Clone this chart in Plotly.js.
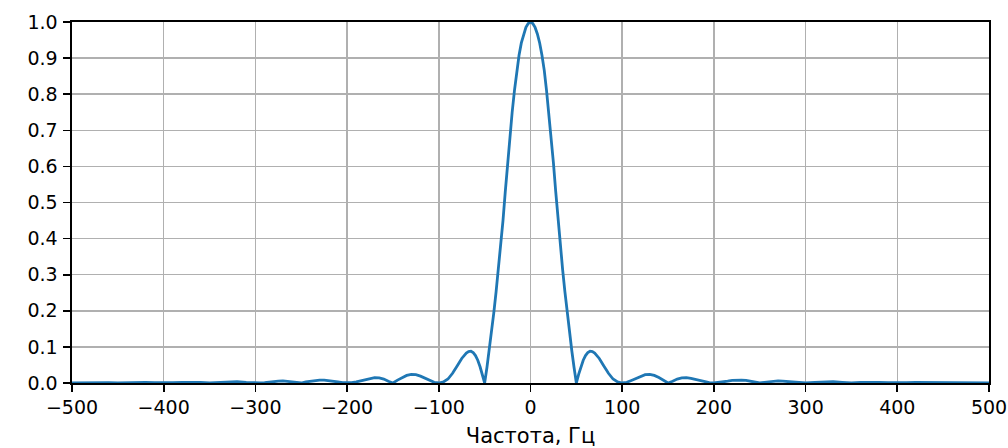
<!DOCTYPE html>
<html>
<head>
<meta charset="utf-8">
<script src="https://cdn.plot.ly/plotly-3.0.1.min.js"></script>
<style>html,body{margin:0;padding:0;background:#fff;}#chart{width:1008px;height:448px;}</style>
</head>
<body>
<div id="chart"></div>
<script>
// Frequency (Hz), negative half
const freqNeg = [-500,-490,-480,-470,-460,-450,-440,-430,-420,-410,-400,-390,-380,-370,-360,-350,-340,-330,-320,-310,
  -300,-295,-290,-285,-280,-275,-270,-265,-260,-255,-250,-245,-240,-235,-230,-225,-220,-215,-210,-205,
  -200,-195,-190,-185,-180,-175,-170,-165,-160,-155,-150,-145,-140,-135,-130,-125,-120,-115,-110,-105,
  -100,-95,-90,-85,-80,-75,-70,-67.5,-65,-62.5,-60,-57.5,-55,-52.5,-50,-47.5,-45,-42.5,-40,-37.5,-35,-32.5,-30,-27.5,-25,-22.5,-20,-17.5,-15,-12.5,-10,-7.5,-5,-2.5];
const ampNeg = [0,0.0005,0.001,0.002,0.001,0,0.001,0.002,0.002,0.001,0,0.001,0.002,0.003,0.002,0,0.002,0.004,0.004,0.002,
  0,0.0005,0.001,0.003,0.004,0.005,0.006,0.005,0.004,0.002,0,0.003,0.005,0.007,0.008,0.008,0.007,0.005,0.003,0.001,
  0,0.001,0.003,0.006,0.010,0.013,0.015,0.014,0.011,0.005,0,0.008,0.015,0.021,0.024,0.023,0.019,0.013,0.007,0.002,
  0,0.003,0.011,0.027,0.047,0.068,0.083,0.087,0.088,0.084,0.076,0.063,0.045,0.024,0,0.043,0.09,0.14,0.195,0.253,0.315,0.38,0.45,0.53,0.61,0.685,0.75,0.81,0.866,0.908,0.942,0.967,0.985,0.996];
// Frequency (Hz), centre and positive half
const freqPos = [0,2.5,5,7.5,10,12.5,15,17.5,20,22.5,25,27.5,30,32.5,35,37.5,40,42.5,45,47.5,50,52.5,55,57.5,60,62.5,65,67.5,70,75,80,85,90,95,
  100,105,110,115,120,125,130,135,140,145,150,155,160,165,170,175,180,185,190,195,
  200,205,210,215,220,225,230,235,240,245,250,255,260,265,270,275,280,285,290,295,
  300,310,320,330,340,350,360,370,380,390,400,410,420,430,440,450,460,470,480,490,500];
const ampPos = [1.0,0.996,0.985,0.967,0.942,0.908,0.866,0.81,0.75,0.685,0.61,0.53,0.45,0.38,0.315,0.253,0.195,0.14,0.09,0.043,0,0.024,0.045,0.063,0.076,0.084,0.088,0.087,0.083,0.068,0.047,0.027,0.011,0.003,
  0,0.002,0.007,0.013,0.019,0.023,0.024,0.021,0.015,0.008,0,0.005,0.011,0.014,0.015,0.013,0.010,0.006,0.003,0.001,
  0,0.001,0.003,0.005,0.007,0.008,0.008,0.007,0.005,0.003,0,0.002,0.004,0.005,0.006,0.005,0.004,0.003,0.001,0.0005,
  0,0.002,0.004,0.004,0.002,0,0.002,0.003,0.002,0.001,0,0.001,0.002,0.002,0.001,0,0.001,0.002,0.001,0.0005,0];
const xTicks = [-500,-400,-300,-200,-100,0,100,200,300,400,500];
const yTicks = [0,0.1,0.2,0.3,0.4,0.5,0.6,0.7,0.8,0.9,1.0];
const xLabel = 'Частота, Гц';

const trace = {
  x: freqNeg.concat(freqPos),
  y: ampNeg.concat(ampPos),
  type: 'scatter', mode: 'lines',
  line: {color: '#1f77b4', width: 2.8},
  hoverinfo: 'skip'
};
const tickFont = {family: 'DejaVu Sans, sans-serif', size: 19, color: '#000'};
const titleFont = {family: 'DejaVu Sans, sans-serif', size: 21, color: '#000'};
const axisCommon = {
  showline: true, linecolor: '#000', linewidth: 1.6, mirror: true,
  ticks: 'outside', ticklen: 7, tickwidth: 1.6, tickcolor: '#000',
  showgrid: true, gridcolor: '#b0b0b0', gridwidth: 1.5, zeroline: false,
  tickfont: tickFont
};
const layout = {
  width: 1008, height: 448,
  margin: {l: 72, r: 19, t: 22, b: 65},
  paper_bgcolor: '#fff', plot_bgcolor: '#fff',
  showlegend: false,
  font: tickFont,
  xaxis: Object.assign({}, axisCommon, {
    range: [-500, 500], tickvals: xTicks,
    ticktext: xTicks.map(v => (v < 0 ? '\u2212' + Math.abs(v) : String(v))),
    title: {text: xLabel, font: titleFont, standoff: 11}
  }),
  yaxis: Object.assign({}, axisCommon, {
    range: [0, 1.0], tickvals: yTicks, ticklabelstandoff: 2,
    ticktext: yTicks.map(v => v.toFixed(1))
  })
};
Plotly.newPlot('chart', [trace], layout, {staticPlot: true, displayModeBar: false});
</script>
</body>
</html>
